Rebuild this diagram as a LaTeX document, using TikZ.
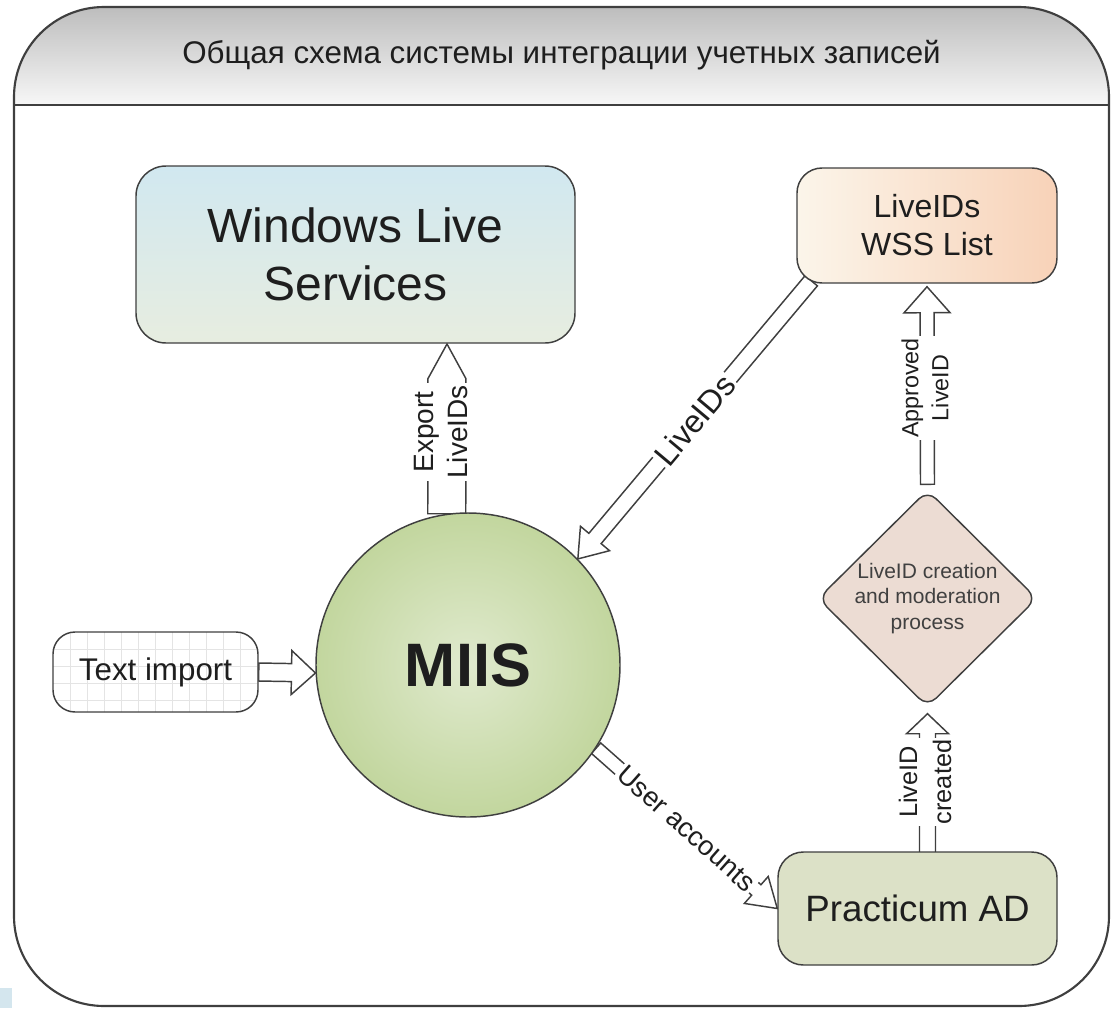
\documentclass[tikz,border=0pt]{standalone}
\usepackage{fontspec}
\setmainfont{Liberation Sans}
\usetikzlibrary{calc,shapes.geometric}
\pgfdeclarelayer{back}
\pgfdeclarelayer{bg}
\pgfsetlayers{back,bg,main}
\definecolor{ink}{HTML}{1E1E1E}
\definecolor{edge}{HTML}{3F3F3F}
\definecolor{hdrT}{HTML}{BDBDBD}
\definecolor{hdrB}{HTML}{F7F7F7}
\definecolor{wlT}{HTML}{D1E8F0}
\definecolor{wlB}{HTML}{E7EDE0}
\definecolor{wssL}{HTML}{FBF5EA}
\definecolor{wssR}{HTML}{F8D2B8}
\definecolor{miisI}{HTML}{E0EACE}
\definecolor{miisO}{HTML}{C2D69E}
\definecolor{diaC}{HTML}{ECDCD3}
\definecolor{pracC}{HTML}{DCE1C7}
\definecolor{gridC}{HTML}{E4E4E4}
\definecolor{cornerC}{HTML}{D4E6EE}
\tikzset{
  box/.style={draw=edge, line width=1.1pt, text=ink, inner sep=0pt},
  fatline/.style={draw=edge, line width=1.1pt, fill=white},
  lbl/.style={fill=white, inner sep=1.5pt, text=ink},
}
% #1 start, #2 tip, #3 shaft half width, #4 head half width, #5 head length
\newcommand\fatarrow[5]{%
  \coordinate (hb) at ($(#2)!#5!(#1)$);
  \draw[fatline] ($(#1)!#3!90:(#2)$) -- ($(hb)!#3!90:(#2)$) -- ($(hb)!#4!90:(#2)$) -- (#2)
    -- ($(hb)!#4!-90:(#2)$) -- ($(hb)!#3!-90:(#2)$) -- ($(#1)!#3!-90:(#2)$) -- cycle;
}
\begin{document}
\begin{tikzpicture}[x=0.75pt, y=-0.75pt]
\useasboundingbox (0,0) rectangle (1111,1008);

% frame and header
\begin{pgfonlayer}{back}
  \fill[cornerC] (0,988) rectangle (12,1008);
  \begin{scope}
    \clip[rounded corners=67.5pt] (14,7) rectangle (1109,1006);
    \shade[top color=hdrT, bottom color=hdrB] (14,7) rectangle (1109,105);
  \end{scope}
  \draw[edge, line width=1.6pt, rounded corners=67.5pt] (14,7) rectangle (1109,1006);
  \draw[edge, line width=1.9pt] (14,105) -- (1109,105);
\end{pgfonlayer}

\node[text=ink, font=\fontsize{23.5}{28}\selectfont] (title) at (561.5,55)
  {Общая схема системы интеграции учетных записей};

% nodes
\node[box, top color=wlT, bottom color=wlB, minimum width=329.25pt, minimum height=132.75pt,
      rounded corners=22.5pt, align=center, font=\fontsize{36}{43.5}\selectfont]
  (wls) at (355.5,254.5) {Windows Live\\Services};
\node[box, left color=wssL, right color=wssR, minimum width=195pt, minimum height=86.25pt,
      rounded corners=18.75pt, align=center, font=\fontsize{24}{28.5}\selectfont]
  (wss) at (927,225.5) {LiveIDs\\WSS List};
\node[circle, draw=edge, line width=1.1pt, inner color=miisI, outer color=miisO,
      minimum size=228pt, inner sep=0pt, text=ink, font=\bfseries\fontsize{46}{50}\selectfont]
  (miis) at (468,665) {MIIS};
\node[box, fill=white, minimum width=153.75pt, minimum height=60pt, rounded corners=16.5pt,
      font=\fontsize{23.5}{28}\selectfont,
      path picture={
        \foreach \k in {1,...,12}
          \draw[draw=gridC, line width=0.75pt] ($(path picture bounding box.north west)+(\k*17,0)$) -- ++(0,90);
        \foreach \k in {1,...,4}
          \draw[draw=gridC, line width=0.75pt] ($(path picture bounding box.north west)+(0,\k*17)$) -- ++(220,0);
      }]
  (ti) at (155.5,672) {Text import};
\node[diamond, draw=edge, line width=1.1pt, fill=diaC, minimum width=164.25pt,
      minimum height=162.75pt, inner sep=0pt, rounded corners=9pt]
  (dia) at (927.5,598.5) {};
\node[text=ink!85, align=center, font=\fontsize{15.75}{19}\selectfont]
  (diat) at (dia.center) {LiveID creation\\and moderation\\process};
\node[box, fill=pracC, minimum width=209.25pt, minimum height=84.75pt, rounded corners=19pt,
      font=\fontsize{27.5}{33}\selectfont]
  (prac) at (917.5,908.5) {Practicum AD};

% connectors
\coordinate (a1s) at (ti.east);
\coordinate (a1t) at (miis.183);
\coordinate (a2s) at ($(wss.south west)+(15,-3)$);
\coordinate (a2t) at (miis.44);
\coordinate (a3s) at (miis.98);
\coordinate (a3t) at (447,344);
\coordinate (a4s) at (miis.-33);
\coordinate (a4t) at (prac.west);
\coordinate (a5s) at (927.5,855);
\coordinate (a5t) at ($(dia.south)+(0,6)$);
\coordinate (a6s) at ($(dia.north)+(0,-5)$);
\coordinate (a6t) at ($(wss.south)+(0,3)$);

\begin{pgfonlayer}{bg}
  \fatarrow{a1s}{a1t}{6.75pt}{16.5pt}{18pt}
  \fatarrow{a2s}{a2t}{6pt}{14.25pt}{20pt}
  \fatarrow{a3s}{a3t}{14.25pt}{14.25pt}{26pt}
  \fatarrow{a4s}{a4t}{5.25pt}{13.5pt}{21pt}
  \fatarrow{a5s}{a5t}{6pt}{15.75pt}{15pt}
  \fatarrow{a6s}{a6t}{5.25pt}{17.25pt}{19.5pt}
  \path (a2s) -- (a2t) node[lbl, sloped, pos=0.5, font=\fontsize{24}{28}\selectfont] (l2) {LiveIDs};
  \path (a4s) -- (a4t) node[lbl, sloped, pos=0.5, font=\fontsize{20.5}{24}\selectfont] (l4) {User accounts};
  \node[lbl, rotate=90, align=center, font=\fontsize{21}{26}\selectfont] (l3) at (441,432) {Export\\LiveIDs};
  \node[lbl, rotate=90, align=center, font=\fontsize{17.5}{22.5}\selectfont] (l6) at (925,388) {Approved\\LiveID};
  \node[lbl, rotate=90, align=center, font=\fontsize{19}{25.5}\selectfont] (l5) at (925,782) {LiveID\\created};
\end{pgfonlayer}
\end{tikzpicture}
\end{document}
